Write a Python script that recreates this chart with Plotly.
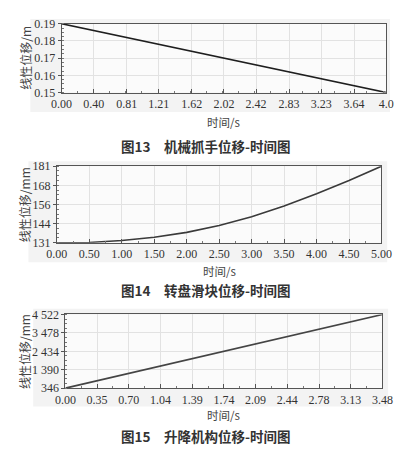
import plotly.graph_objects as go

# 图13 机械抓手位移
arm_t = [0.0, 4.04]
arm_s = [0.19, 0.15]
arm_xticks = [0.00, 0.40, 0.81, 1.21, 1.62, 2.02, 2.42, 2.83, 3.23, 3.64, 4.04]
arm_xlabels = ["0.00", "0.40", "0.81", "1.21", "1.62", "2.02", "2.42", "2.83", "3.23", "3.64", "4.0"]
arm_yticks = [0.15, 0.16, 0.17, 0.18, 0.19]
arm_ylabels = ["0.15", "0.16", "0.17", "0.18", "0.19"]

# 图14 转盘滑块位移
slide_t = [0.0, 0.5, 1.0, 1.5, 2.0, 2.5, 3.0, 3.5, 4.0, 4.5, 5.0]
slide_s = [131.0, 131.2, 132.5, 134.6, 137.8, 142.3, 148.0, 155.0, 163.0, 171.6, 181.0]
slide_xticks = [0.0, 0.5, 1.0, 1.5, 2.0, 2.5, 3.0, 3.5, 4.0, 4.5, 5.0]
slide_xlabels = ["0.00", "0.50", "1.00", "1.50", "2.00", "2.50", "3.00", "3.50", "4.00", "4.50", "5.00"]
slide_yticks = [131, 143.5, 156, 168.5, 181]
slide_ylabels = ["131", "144", "156", "168", "181"]

# 图15 升降机构位移
lift_t = [0.0, 3.48]
lift_s = [346, 4522]
lift_xticks = [0.0, 0.348, 0.696, 1.044, 1.392, 1.74, 2.088, 2.436, 2.784, 3.132, 3.48]
lift_xlabels = ["0.00", "0.35", "0.70", "1.04", "1.39", "1.74", "2.09", "2.44", "2.78", "3.13", "3.48"]
lift_yticks = [346, 1390, 2434, 3478, 4522]
lift_ylabels = ["346", "1 390", "2 434", "3 478", "4 522"]

# page body has a default 8px margin, so the figure is shifted by that
OFF = 8
W, H = 419 - OFF, 462 - OFF
def px(x): return (x - OFF) / W
def py(y): return 1 - (y - OFF) / H

fig = go.Figure()

serif = dict(family="Liberation Serif, DejaVu Serif, serif", size=12, color="#333333")
cjk = "Noto Sans CJK SC"

panels = [
    (1, arm_t, arm_s, arm_xticks, arm_xlabels, arm_yticks, arm_ylabels,
     (53, 396, 17, 88), (20, 400, 12, 108), "#1e1e1e", 118, 143, "图13\u3000机械抓手位移-时间图", "线性位移/m"),
    (2, slide_t, slide_s, slide_xticks, slide_xlabels, slide_yticks, slide_ylabels,
     (48, 391, 164, 243), (18, 397, 159, 263), "#3a3a3a", 272, 292, "图14\u3000转盘滑块位移-时间图", "线性位移/mm"),
    (3, lift_t, lift_s, lift_xticks, lift_xlabels, lift_yticks, lift_ylabels,
     (57, 392, 317, 393), (23, 398, 311, 412), "#444444", 421, 442, "图15\u3000升降机构位移-时间图", "线性位移/mm"),
]

shapes = []
annotations = []
for (i, t, s, xt, xl, yt, yl, box, pan, col, xty, capy, cap, ytitle) in panels:
    xa = "x" if i == 1 else "x%d" % i
    ya = "y" if i == 1 else "y%d" % i
    fig.add_trace(go.Scatter(x=t, y=s, mode="lines", xaxis=xa, yaxis=ya,
                             line=dict(color=col, width=1.6), showlegend=False,
                             hoverinfo="skip"))
    l, r, top, bot = box
    xstep = xt[1] - xt[0]
    ystep = yt[1] - yt[0]
    fig.update_layout(**{
        ("xaxis" if i == 1 else "xaxis%d" % i): dict(
            domain=[px(l), px(r)], anchor=ya, range=[xt[0], xt[-1]],
            tickmode="array", tickvals=xt, ticktext=xl, tickfont=serif,
            ticks="inside", ticklen=4, tickcolor="#555", showline=True,
            linecolor="#555", linewidth=1, mirror=True,
            showgrid=True, gridcolor="#e2e2e2", gridwidth=1, zeroline=False,
            minor=dict(dtick=xstep / 2, tick0=xt[0], ticks="inside", ticklen=2,
                       tickcolor="#777", showgrid=False),
            fixedrange=True),
        ("yaxis" if i == 1 else "yaxis%d" % i): dict(
            domain=[py(bot), py(top)], anchor=xa, range=[yt[0], yt[-1]],
            tickmode="array", tickvals=yt, ticktext=yl, tickfont=serif,
            ticks="outside", ticklen=3, tickcolor="#555", showline=True,
            linecolor="#555", linewidth=1, mirror=True,
            showgrid=True, gridcolor="#e2e2e2", gridwidth=1, zeroline=False,
            minor=dict(dtick=ystep / 4, tick0=yt[0], ticks="inside", ticklen=2,
                       tickcolor="#777", showgrid=False),
            fixedrange=True),
    })
    pl, pr, pt, pb = pan
    shapes.append(dict(type="rect", xref="paper", yref="paper", layer="below",
                       x0=px(pl), x1=px(pr), y0=py(pb), y1=py(pt),
                       fillcolor="#f3f3f3", line=dict(width=0)))
    shapes.append(dict(type="rect", xref="paper", yref="paper", layer="below",
                       x0=px(l), x1=px(r), y0=py(bot), y1=py(top),
                       fillcolor="#fbfbfb", line=dict(width=0)))
    annotations.append(dict(text="时间/s", xref="paper", yref="paper",
                            x=px((l + r) / 2), y=py(xty), showarrow=False,
                            xanchor="center", yanchor="middle",
                            font=dict(family=cjk, size=11.5, color="#444")))
    annotations.append(dict(text=ytitle, xref="paper", yref="paper", textangle=-90,
                            x=px(14), y=py((top + bot) / 2), showarrow=False,
                            xanchor="center", yanchor="middle",
                            font=dict(family=cjk, size=12, color="#444")))
    annotations.append(dict(text="<b>" + cap + "</b>", xref="paper", yref="paper",
                            x=px(205), y=py(capy), showarrow=False,
                            xanchor="center", yanchor="middle",
                            font=dict(family=cjk, size=13.5, color="#333")))

fig.update_layout(width=W, height=H, margin=dict(l=0, r=0, t=0, b=0),
                  paper_bgcolor="white", plot_bgcolor="rgba(0,0,0,0)",
                  shapes=shapes, annotations=annotations)

fig.write_html("out.html")
